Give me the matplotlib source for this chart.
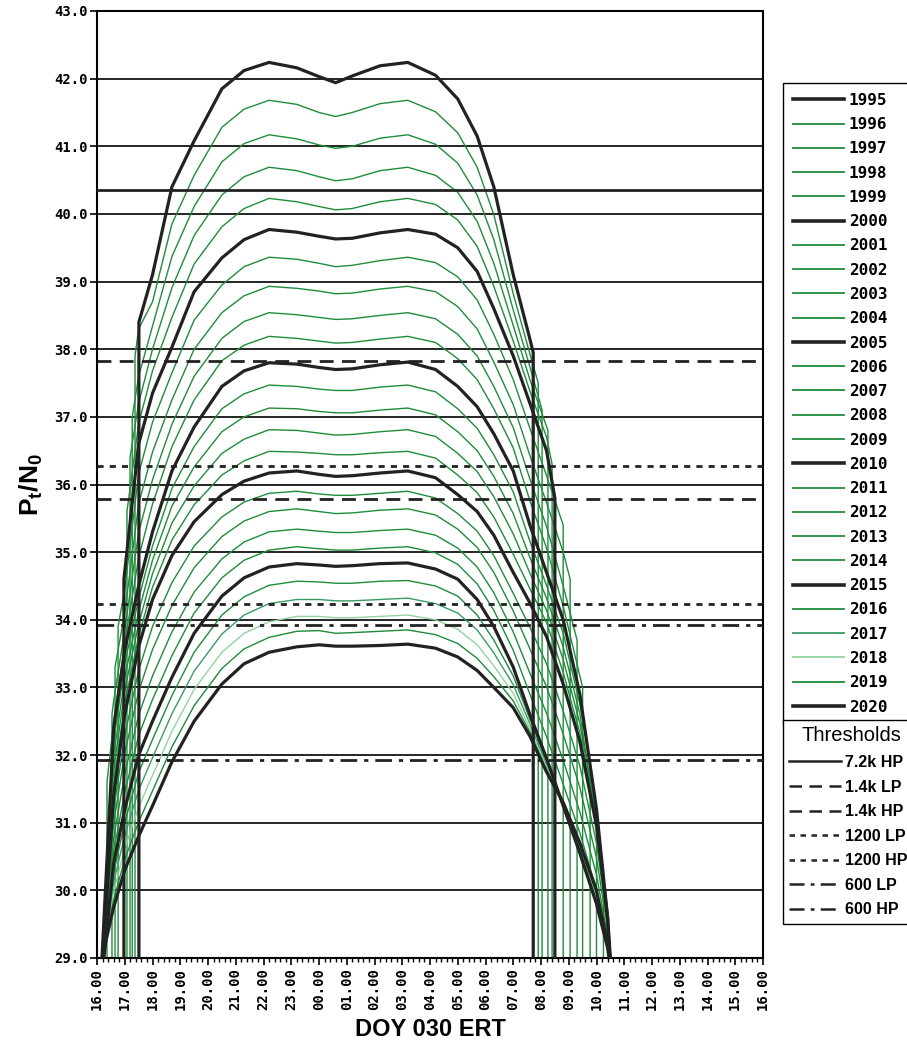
import matplotlib
matplotlib.use("Agg")
import matplotlib.pyplot as plt
from matplotlib.lines import Line2D
from matplotlib.ticker import MultipleLocator, FixedLocator

plt.rcParams['mathtext.default'] = 'regular'

# hours after 16:00 (DOY 030 ERT) at which every pass curve is read
knot_hours = [0.6, 1.0, 1.5, 2.0, 2.7, 3.5, 4.5, 5.3, 6.2, 7.2, 8.0, 8.6, 9.2,
              10.2, 11.2, 12.2, 13.0, 13.7, 14.3, 15.0, 15.6, 16.2, 16.8, 17.4, 18.0, 18.4]
N = None

p1995 = [N, N, N, 39.10, 40.40, 41.08, 41.85, 42.12, 42.24, 42.16, 42.03, 41.94, 42.04,
         42.19, 42.24, 42.05, 41.70, 41.15, 40.40, 39.10, 38.15, N, N, N, N, N]
p1996 = [N, N, 38.30, 38.70, 39.85, 40.57, 41.28, 41.55, 41.68, 41.62, 41.50, 41.44, 41.50,
         41.63, 41.68, 41.51, 41.20, 40.69, 39.99, 38.82, 37.93, N, N, N, N, N]
p1997 = [N, N, 37.60, 38.34, 39.37, 40.11, 40.77, 41.04, 41.17, 41.11, 41.02, 40.97, 41.00,
         41.12, 41.17, 41.03, 40.75, 40.28, 39.62, 38.58, 37.74, N, N, N, N, N]
p1998 = [N, N, 37.20, 38.00, 38.91, 39.68, 40.28, 40.55, 40.69, 40.64, 40.55, 40.49, 40.52,
         40.64, 40.69, 40.57, 40.32, 39.89, 39.27, 38.35, 37.55, N, N, N, N, N]
p1999 = [N, N, 36.90, 37.68, 38.47, 39.26, 39.81, 40.08, 40.23, 40.18, 40.11, 40.06, 40.08,
         40.18, 40.23, 40.14, 39.91, 39.52, 38.93, 38.12, 37.38, 36.70, N, N, N, N]
p2000 = [N, N, 36.60, 37.35, 38.03, 38.85, 39.35, 39.62, 39.77, 39.73, 39.67, 39.63, 39.64,
         39.72, 39.77, 39.70, 39.50, 39.15, 38.60, 37.90, 37.20, 36.50, N, N, N, N]
p2001 = [N, 34.45, 36.16, 36.92, 37.65, 38.43, 38.95, 39.22, 39.36, 39.33, 39.27, 39.22, 39.24,
         39.31, 39.36, 39.28, 39.07, 38.73, 38.22, 37.55, 36.83, 36.13, N, N, N, N]
p2002 = [N, 34.10, 35.71, 36.48, 37.25, 38.00, 38.54, 38.79, 38.93, 38.90, 38.86, 38.82, 38.83,
         38.89, 38.93, 38.85, 38.63, 38.30, 37.81, 37.18, 36.43, 35.73, 35.00, N, N, N]
p2003 = [32.80, 33.85, 35.29, 36.07, 36.89, 37.60, 38.16, 38.41, 38.54, 38.51, 38.47, 38.44, 38.45,
         38.50, 38.54, 38.45, 38.22, 37.90, 37.45, 36.84, 36.08, 35.38, 34.50, N, N, N]
p2004 = [32.50, 33.65, 34.92, 35.71, 36.56, 37.25, 37.83, 38.06, 38.19, 38.16, 38.12, 38.09, 38.10,
         38.15, 38.19, 38.10, 37.86, 37.55, 37.12, 36.54, 35.76, 35.06, 34.20, N, N, N]
p2005 = [32.40, 33.55, 34.50, 35.30, 36.20, 36.85, 37.45, 37.68, 37.80, 37.78, 37.73, 37.70, 37.71,
         37.77, 37.81, 37.70, 37.45, 37.15, 36.75, 36.20, 35.40, 34.70, 34.00, 32.90, 31.20, 29.60]
p2006 = [32.19, 33.35, 34.31, 35.09, 35.94, 36.56, 37.12, 37.34, 37.47, 37.45, 37.41, 37.39, 37.39,
         37.44, 37.47, 37.37, 37.12, 36.83, 36.44, 35.89, 35.16, 34.51, 33.80, 32.75, N, N]
p2007 = [31.98, 33.15, 34.12, 34.88, 35.68, 36.26, 36.78, 37.00, 37.13, 37.12, 37.08, 37.06, 37.06,
         37.10, 37.13, 37.03, 36.78, 36.50, 36.12, 35.57, 34.92, 34.32, 33.60, 32.61, N, N]
p2008 = [31.78, 32.96, 33.94, 34.68, 35.43, 35.98, 36.46, 36.67, 36.81, 36.80, 36.76, 36.73, 36.74,
         36.78, 36.81, 36.71, 36.46, 36.19, 35.82, 35.27, 34.69, 34.14, 33.41, 32.47, 31.05, N]
p2009 = [31.58, 32.77, 33.76, 34.48, 35.18, 35.70, 36.14, 36.35, 36.49, 36.48, 36.46, 36.44, 36.44,
         36.47, 36.49, 36.39, 36.14, 35.88, 35.52, 34.97, 34.46, 33.96, 33.22, 32.33, 31.00, 29.60]
p2010 = [31.40, 32.60, 33.60, 34.30, 34.95, 35.45, 35.85, 36.05, 36.17, 36.20, 36.15, 36.12, 36.13,
         36.17, 36.20, 36.10, 35.85, 35.60, 35.25, 34.70, 34.25, 33.75, 33.05, 32.20, 30.95, 29.60]
p2011 = [31.18, 32.29, 33.25, 33.90, 34.55, 35.09, 35.52, 35.74, 35.87, 35.90, 35.86, 35.84, 35.84,
         35.87, 35.90, 35.80, 35.57, 35.31, 34.95, 34.39, 33.89, 33.35, 32.65, 31.84, 30.70, 29.50]
p2012 = [30.99, 32.03, 32.94, 33.56, 34.21, 34.77, 35.23, 35.46, 35.60, 35.64, 35.60, 35.57, 35.58,
         35.62, 35.64, 35.55, 35.34, 35.07, 34.70, 34.13, 33.57, 33.01, 32.31, 31.52, 30.48, 29.42]
p2013 = [30.77, 31.72, 32.59, 33.17, 33.82, 34.41, 34.90, 35.15, 35.30, 35.34, 35.31, 35.29, 35.29,
         35.32, 35.34, 35.25, 35.06, 34.78, 34.40, 33.82, 33.21, 32.62, 31.92, 31.16, 30.23, 29.32]
p2014 = [30.58, 31.45, 32.29, 32.82, 33.47, 34.10, 34.62, 34.88, 35.03, 35.08, 35.05, 35.03, 35.03,
         35.06, 35.08, 34.99, 34.82, 34.53, 34.14, 33.55, 32.90, 32.27, 31.57, 30.85, 30.01, 29.23]
p2015 = [30.40, 31.20, 32.00, 32.50, 33.15, 33.80, 34.35, 34.62, 34.78, 34.83, 34.81, 34.79, 34.80,
         34.83, 34.84, 34.75, 34.60, 34.30, 33.90, 33.30, 32.60, 31.95, 31.25, 30.55, 29.80, 29.15]
p2016 = [30.26, 31.00, 31.74, 32.23, 32.88, 33.52, 34.07, 34.34, 34.51, 34.57, 34.56, 34.54, 34.54,
         34.57, 34.58, 34.50, 34.35, 34.07, 33.70, 33.17, 32.53, 31.91, 31.26, 30.58, 29.84, 29.16]
p2017 = [30.12, 30.81, 31.48, 31.96, 32.61, 33.24, 33.79, 34.07, 34.24, 34.30, 34.30, 34.28, 34.28,
         34.30, 34.32, 34.24, 34.10, 33.85, 33.51, 33.04, 32.46, 31.86, 31.27, 30.61, 29.89, 29.17]
p2018 = [29.98, 30.62, 31.23, 31.70, 32.35, 32.97, 33.52, 33.80, 33.97, 34.05, 34.05, 34.03, 34.03,
         34.05, 34.07, 34.00, 33.86, 33.63, 33.32, 32.91, 32.39, 31.82, 31.28, 30.65, 29.93, 29.18]
p2019 = [29.86, 30.46, 31.01, 31.47, 32.12, 32.73, 33.28, 33.57, 33.74, 33.83, 33.84, 33.80, 33.81,
         33.83, 33.85, 33.78, 33.65, 33.43, 33.16, 32.80, 32.34, 31.78, 31.29, 30.67, 29.96, 29.19]
p2020 = [29.75, 30.30, 30.80, 31.25, 31.90, 32.50, 33.05, 33.35, 33.52, 33.60, 33.63, 33.61, 33.61,
         33.62, 33.64, 33.58, 33.45, 33.25, 33.00, 32.70, 32.28, 31.75, 31.30, 30.70, 30.00, 29.20]

years = list(range(1995, 2021))
passes = [p1995, p1996, p1997, p1998, p1999, p2000, p2001, p2002, p2003, p2004,
          p2005, p2006, p2007, p2008, p2009, p2010, p2011, p2012, p2013, p2014,
          p2015, p2016, p2017, p2018, p2019, p2020]

# start / end of each track (hour, level); level 29 means the curve just runs out at the floor
rise_hours = [1.51, 1.37, 1.27, 1.19, 1.08, 0.97, 0.76, 0.65, 0.54, 0.36,
              0.18, 0.19, 0.20, 0.20, 0.20, 0.20, 0.21, 0.22, 0.23, 0.24,
              0.25, 0.24, 0.23, 0.21, 0.20, 0.18]
rise_levels = [38.4, 37.9, 37.0, 36.4, 35.6, 34.6, 33.9, 33.3, 32.6, 31.6,
               29, 29, 29, 29, 29, 29, 29, 29, 29, 29, 29, 29, 29, 29, 29, 29]
set_hours = [15.72, 15.90, 16.04, 16.25, 16.40, 16.50, 16.80, 17.05, 17.30, 17.50,
             18.50, 17.77, 18.00, 18.25, 18.48, 18.48, 18.50, 18.50, 18.50, 18.50,
             18.45, 18.46, 18.47, 18.48, 18.49, 18.50]
set_levels = [37.95, 37.5, 37.1, 36.8, 36.3, 35.8, 35.4, 34.6, 33.7, 33.0,
              29, 31.9, 31.0, 30.3, 29, 29, 29, 29, 29, 29, 29, 29, 29, 29, 29, 29]

thr_labels = ['7.2k HP', '1.4k LP', '1.4k HP', '1200 LP', '1200 HP', '600 LP', '600 HP']
thr_levels = [40.35, 37.83, 35.79, 36.27, 34.24, 33.92, 31.93]
thr_styles = ['-', (0, (5, 3)), (0, (5, 3)), (0, (2.2, 2.2)), (0, (2.2, 2.2)),
              (0, (6, 2.5, 1.5, 2.5)), (0, (6, 2.5, 1.5, 2.5))]

mono = {'family': 'DejaVu Sans Mono', 'weight': 'bold'}
black = '#222222'
green = '#1f8c3b'


def year_style(y):
    if y % 5 == 0:
        return black, 2.3
    if y == 2018:
        return '#92d3a0', 1.0
    if y == 2017:
        return '#3a9a66', 1.0
    return green, 1.0


fig = plt.figure(figsize=(9.07, 10.51), dpi=100)
ax = fig.add_axes([97 / 907, 1 - 958 / 1051, 666 / 907, 947 / 1051])

for lev in range(29, 44):
    ax.axhline(lev, color='black', lw=1.2, zorder=1)

for i, y in enumerate(years):
    col, lw = year_style(y)
    xs = [rise_hours[i]]
    ys = [29.0]
    if rise_levels[i] > 29:
        xs.append(rise_hours[i])
        ys.append(rise_levels[i])
    for k, v in zip(knot_hours, passes[i]):
        if v is not None and rise_hours[i] < k < set_hours[i]:
            xs.append(k)
            ys.append(v)
    if set_levels[i] > 29:
        xs.append(set_hours[i])
        ys.append(set_levels[i])
    xs.append(set_hours[i])
    ys.append(29.0)
    ax.plot(xs, ys, color=col, lw=lw, zorder=3 if col == black else 2,
            solid_joinstyle='round')

for lab, lev, ls in zip(thr_labels, thr_levels, thr_styles):
    ax.axhline(lev, color=black, lw=2.0, ls=ls, zorder=4)

ax.set_xlim(0, 24)
ax.set_ylim(29, 43)
ax.yaxis.set_major_locator(MultipleLocator(1))
ax.set_yticklabels(['%.1f' % v for v in ax.get_yticks()], fontdict=mono, fontsize=10)
ax.xaxis.set_major_locator(FixedLocator(range(0, 25)))
ax.xaxis.set_minor_locator(MultipleLocator(0.2))
ax.set_xticklabels(['%02d.00' % ((16 + h) % 24) for h in range(0, 25)],
                   fontdict=mono, fontsize=10, rotation=90)
ax.tick_params(axis='both', which='major', length=5, width=1.2, pad=2)
ax.tick_params(axis='x', which='minor', length=3, width=1)
for s in ax.spines.values():
    s.set_linewidth(1.5)

ax.set_ylabel(r'P$_t$/N$_0$', fontsize=19, fontweight='bold', family='Liberation Sans',
              labelpad=6)
ax.set_xlabel('DOY 030 ERT', fontsize=17, fontweight='bold', family='Liberation Sans',
              labelpad=6)

# legend boxes run past the right edge of the figure, as in the original
leg_left = 783 / 907
leg_width = 136 / 907

year_handles = []
for y in years:
    col, lw = year_style(y)
    year_handles.append(Line2D([], [], color=col, lw=lw + 0.3))
leg1 = fig.legend(year_handles, [str(y) for y in years], loc='upper left',
                  bbox_to_anchor=(leg_left, 1 - 83 / 1051, leg_width, 0.0), mode='expand',
                  frameon=True, fancybox=False, edgecolor='black', framealpha=1,
                  borderaxespad=0, handlelength=3.2, handletextpad=0.3,
                  labelspacing=0.58, borderpad=0.62,
                  prop={'family': 'DejaVu Sans Mono', 'weight': 'bold', 'size': 11.5})
leg1.get_frame().set_linewidth(1.0)

thr_handles = [Line2D([], [], color=black, lw=1.8, ls=ls) for ls in thr_styles]
leg2 = fig.legend(thr_handles, thr_labels, loc='upper left',
                  bbox_to_anchor=(leg_left, 1 - 720 / 1051, leg_width, 0.0), mode='expand',
                  frameon=True, fancybox=False, edgecolor='black', framealpha=1,
                  borderaxespad=0, handlelength=3.2, handletextpad=0.3,
                  labelspacing=0.6, borderpad=0.4,
                  title='Thresholds',
                  title_fontproperties={'family': 'Liberation Sans', 'size': 14.5},
                  prop={'family': 'Liberation Sans', 'weight': 'bold', 'size': 11.5})
leg2.get_frame().set_linewidth(1.0)

fig.savefig('out.png', dpi=100)
